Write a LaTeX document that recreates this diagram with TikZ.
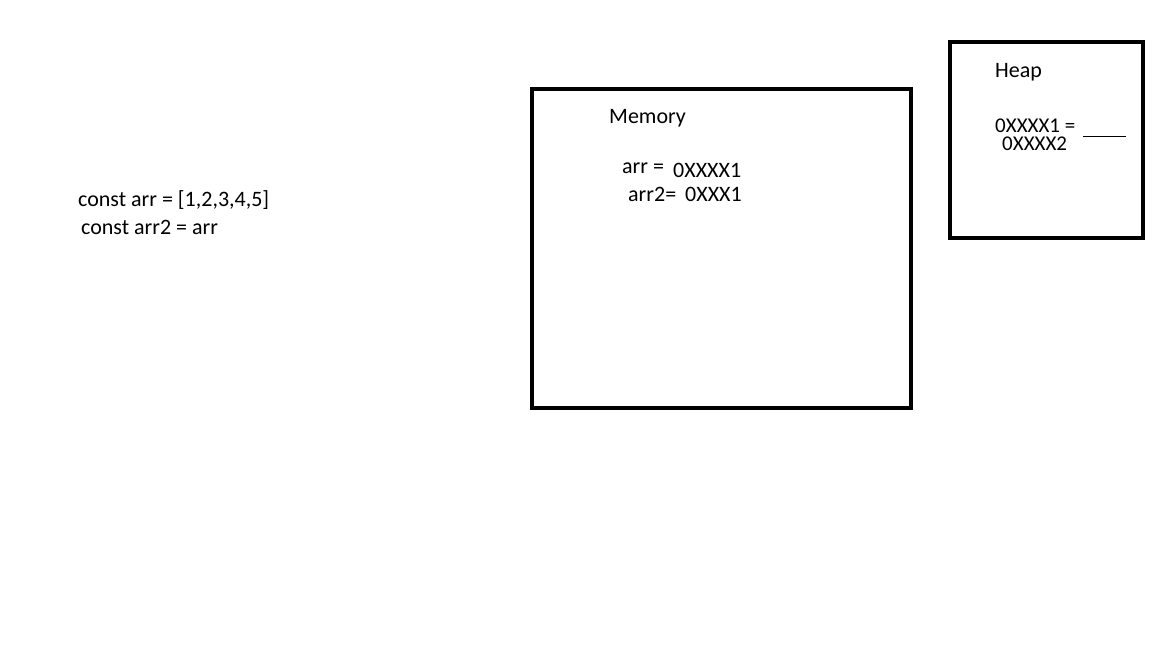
\documentclass[tikz,border=0pt]{standalone}
\usepackage{fontspec}
\setmainfont{Carlito}
\begin{document}
\begin{tikzpicture}[x=1pt,y=-1pt,
  lbl/.style={anchor=base west,inner sep=0pt,font=\fontsize{22}{24}\selectfont},
  sml/.style={lbl,font=\fontsize{21}{23}\selectfont},
  box/.style={draw,line width=4.5pt}]
\useasboundingbox (0,0) rectangle (1152,648);
\fill[white] (0,0) rectangle (1152,648);
\node[lbl] (c1) at (78,206) {const arr = [1,2,3,4,5]};
\node[lbl] (c2) at (81,234) {const arr2 = arr};
\draw[box] (532,89) rectangle (911,408);
\node[lbl] (mem) at (609,123) {Memory};
\node[lbl] (a1) at (622,173) {arr =};
\node[lbl] (v1) at (673,177) {0XXXX1};
\node[lbl] (a2) at (628,201) {arr2=};
\node[lbl] (v2) at (685,201) {0XXX1};
\draw[box] (950,42) rectangle (1143,238);
\node[lbl] (heap) at (995,77) {Heap};
\node[sml] (h1) at (995,132) {0XXXX1 =};
\node[sml] (h2) at (1002,150) {0XXXX2};
\coordinate (u1) at (1083,136);
\coordinate (u2) at (1126,136);
\draw[line width=1pt] (u1) -- (u2);
\end{tikzpicture}
\end{document}
